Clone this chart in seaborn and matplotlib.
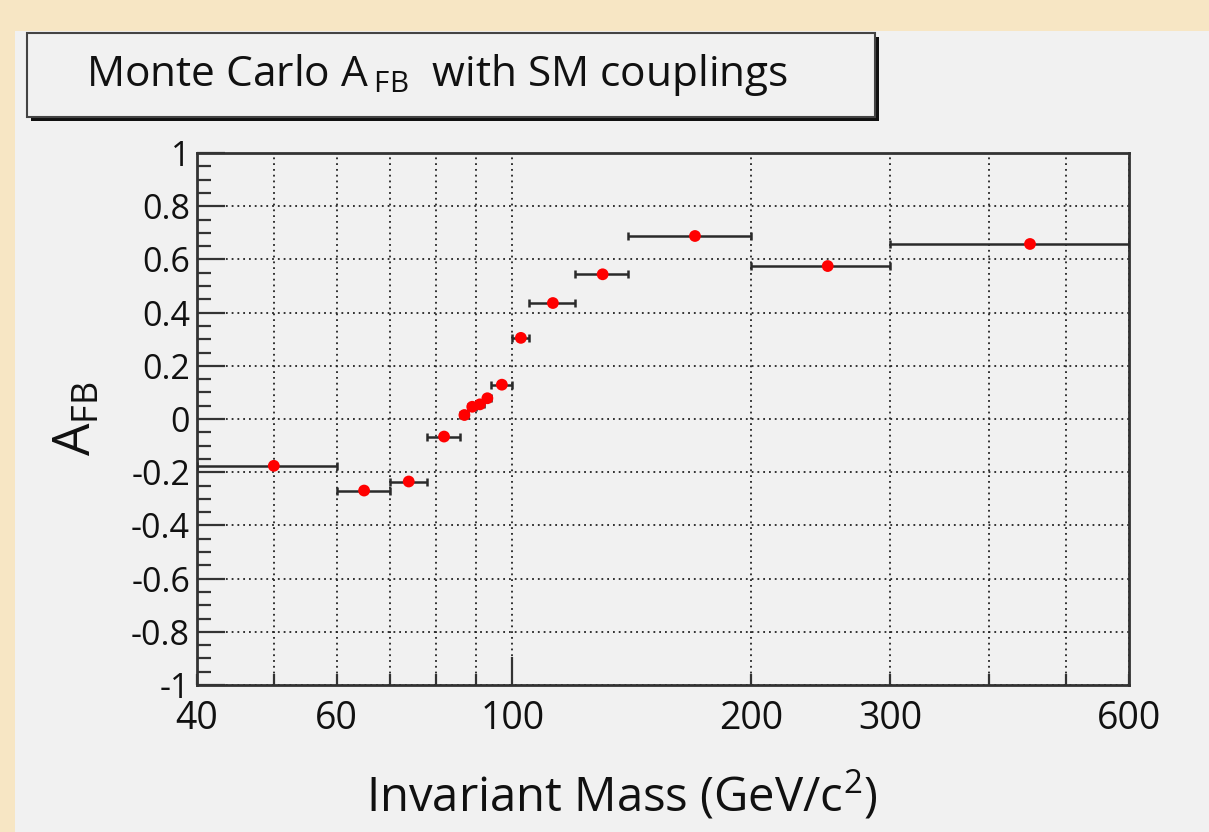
import numpy as np
import matplotlib
matplotlib.use("Agg")
import matplotlib.pyplot as plt
from matplotlib.patches import Rectangle
from matplotlib.ticker import FixedLocator, FixedFormatter, MultipleLocator, NullFormatter
import seaborn as sns

# bin centres, half widths and asymmetry
mass = [50, 65, 74, 82, 87, 89, 91, 93, 97, 102.5, 112.5, 130, 170, 250, 450]
mass_halfwidth = [10, 5, 4, 4, 1, 1, 1, 1, 3, 2.5, 7.5, 10, 30, 50, 150]
afb = [-0.176, -0.269, -0.235, -0.066, 0.015, 0.046, 0.055, 0.078, 0.129,
       0.305, 0.436, 0.544, 0.688, 0.575, 0.658]

x_labels = ["40", "60", "100", "200", "300", "600"]
x_label_pos = [40, 60, 100, 200, 300, 600]
x_minor = [50, 70, 80, 90, 400, 500]
y_labels = ["-1", "-0.8", "-0.6", "-0.4", "-0.2", "0", "0.2", "0.4", "0.6", "0.8", "1"]

sns.set_style("white")
plt.rcParams["font.family"] = ["Open Sans", "DejaVu Sans"]
plt.rcParams["mathtext.fontset"] = "custom"
plt.rcParams["mathtext.rm"] = "Open Sans"
plt.rcParams["mathtext.it"] = "Open Sans"
plt.rcParams["axes.unicode_minus"] = False
plt.rcParams["xtick.labelsize"] = 27
plt.rcParams["ytick.labelsize"] = 24.5

W, H = 1209, 832
fig = plt.figure(figsize=(W / 100, H / 100), dpi=100, facecolor="#f7e6c4")
panel = "#f1f1f1"
fig.patches.append(Rectangle((15 / W, 0), 1, (H - 31) / H, transform=fig.transFigure,
                             facecolor=panel, edgecolor="none", zorder=-5))

ax = fig.add_axes([197 / W, (H - 685) / H, (1129 - 197) / W, (685 - 153) / H])
ax.set_facecolor(panel)

ax.errorbar(mass, afb, xerr=mass_halfwidth, fmt="none", ecolor="#2a2a2a",
            elinewidth=1.8, capsize=2.8, capthick=1.8, zorder=3)
sns.scatterplot(x=mass, y=afb, color="#ff0000", s=72, edgecolor="none", zorder=4, ax=ax)

ax.set_xscale("log")
ax.set_xlim(40, 600)
ax.set_ylim(-1, 1)

ax.xaxis.set_major_locator(FixedLocator(x_label_pos))
ax.xaxis.set_major_formatter(FixedFormatter(x_labels))
ax.xaxis.set_minor_locator(FixedLocator(x_minor))
ax.xaxis.set_minor_formatter(NullFormatter())
ax.set_yticks(np.linspace(-1, 1, 11))
ax.set_yticklabels(y_labels)
ax.yaxis.set_minor_locator(MultipleLocator(0.05))

ax.tick_params(axis="both", which="both", direction="in", color="#333333", width=1.6,
               bottom=True, left=True, top=False, right=False, labelcolor="#111111")
ax.tick_params(axis="x", which="both", length=8, pad=11)
ax.tick_params(axis="y", which="major", length=20, pad=5)
ax.tick_params(axis="y", which="minor", length=10)
# the 100 tick is drawn long, as in the original
ax.xaxis.get_major_ticks()[2].tick1line.set_markersize(20)

ax.grid(True, which="major", axis="y", linestyle=(0, (1, 2.2)), color="#222222", lw=1.3)
ax.grid(True, which="both", axis="x", linestyle=(0, (1, 2.2)), color="#222222", lw=1.3)
ax.set_axisbelow(True)
for s in ax.spines.values():
    s.set_color("#333333")
    s.set_linewidth(2)

ax.set_xlabel("Invariant Mass (GeV/c$^2$)", fontsize=34, color="#111111")
ax.xaxis.set_label_coords((622 - 197) / 932, -0.158)
ax.set_ylabel("A$_{\\mathrm{FB}}$", fontsize=37, color="#111111")
ax.yaxis.set_label_coords(-(197 - 103) / 932, 0.5)

# title box with shadow
fig.patches.append(Rectangle((31 / W, (H - 121) / H), 848 / W, 84 / H, transform=fig.transFigure,
                             facecolor="#111111", edgecolor="none", zorder=1))
fig.patches.append(Rectangle((27 / W, (H - 117) / H), 848 / W, 84 / H, transform=fig.transFigure,
                             facecolor=panel, edgecolor="#444444", lw=1.5, zorder=2))
fig.text(86 / W, (H - 75) / H, "Monte Carlo A$\\,_{\\mathrm{FB}}$  with SM couplings",
         fontsize=30.5, color="#111111", ha="left", va="center", zorder=3)

fig.savefig("out.png", dpi=100, facecolor=fig.get_facecolor())
